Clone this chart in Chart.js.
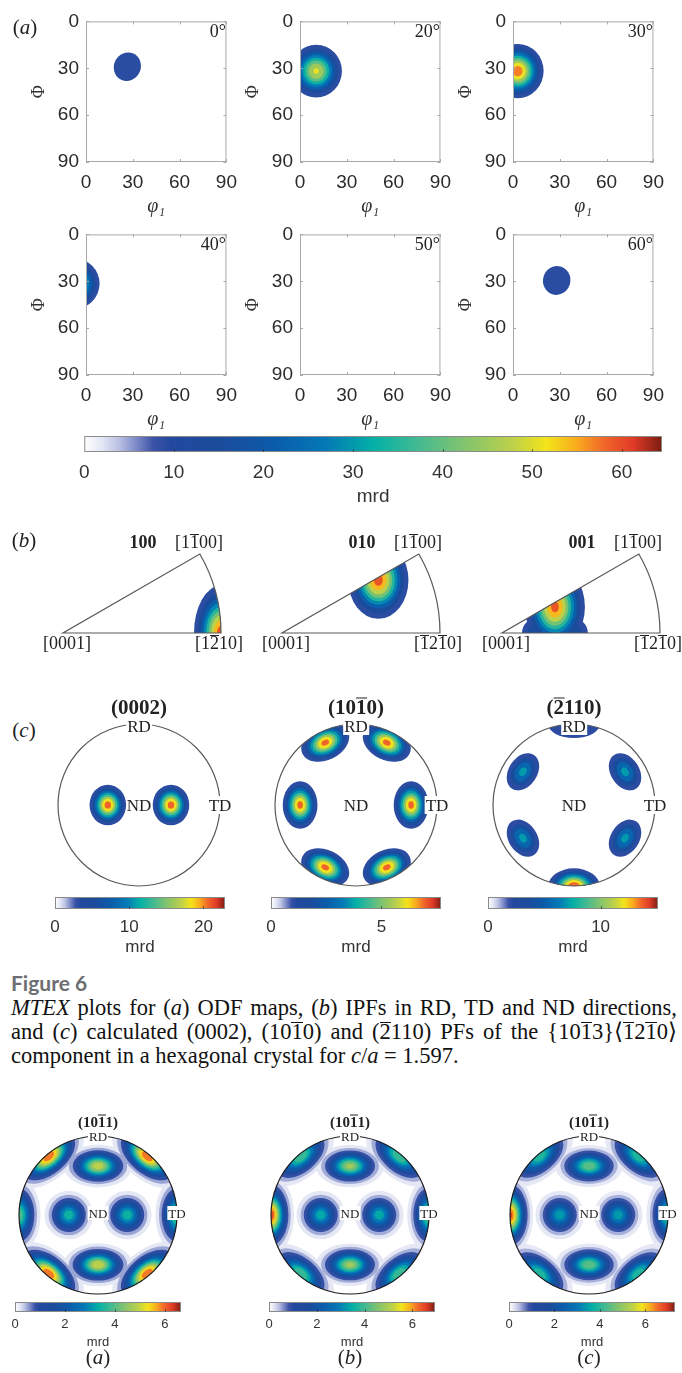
<!DOCTYPE html>
<html>
<head>
<meta charset="utf-8">
<title>MTEX plots</title>
<script src="https://cdn.jsdelivr.net/npm/chart.js@4.4.1/dist/chart.umd.min.js"></script>
<style>
  html, body { margin: 0; padding: 0; background: #fff; }
  #page { position: relative; width: 682px; height: 1373px; overflow: hidden; background: #fff; }
  .box { position: absolute; }
  .box canvas { display: block; }
  .t { position: absolute; white-space: nowrap; transform: translate(-50%, -50%);
       font-family: "Liberation Serif", "DejaVu Serif", serif; color: #222; line-height: 1; z-index: 5; }
  .r { transform: translate(-100%, -50%); }
  .bg { background: #fff; padding: 1px 1px 0; }
  .ol { display: inline-block; border-top: 1px solid currentColor; line-height: 0.7em; padding-top: 1px; }
  .fig { position: absolute; left: 11px; top: 971px; font-family: Lato, "Open Sans", sans-serif;
         font-weight: bold; font-size: 21px; color: #6d6e71; line-height: 1.1; }
  .cap { position: absolute; left: 11px; width: 666px; font-family: "Liberation Serif", serif; font-size: 22.5px;
         color: #111; white-space: nowrap; line-height: 1.1; }
  .just { text-align: justify; text-align-last: justify; word-spacing: -1px; }
</style>
</head>
<body>
<div id="page"></div>
<script>
// ---------- data ----------
// (a) ODF sections, one blob per section (phi1, Phi in degrees)
const odfSections = ['0°', '20°', '30°', '40°', '50°', '60°'];
const odfTicks = [0, 30, 60, 90];
const odfBlobX = [26.5, 10.4, 3, -7.5, null, 28];
const odfBlobY = [29, 31.8, 31.8, 31.5, null, 29.5];
const odfSigmaMajor = [10.8, 8.8, 8.5, 8.75, null, 10.8];
const odfSigmaMinor = [10.0, 9.0, 8.9, 8.75, null, 10.2];
const odfTilt = [65, 0, 0, 0, null, 75];
const odfPeak = [13, 52, 61, 50, null, 13];
const odfLevels = [9, 15, 21, 27, 33, 39, 45, 51, 57, 63];
const odfMax = 64.5;
const odfBarTicks = [0, 10, 20, 30, 40, 50, 60];

// (b) inverse pole figures: [x, y, sigmaMajor, sigmaMinor, tilt, peak]
const ipfTitles = ['100', '010', '001'];
const ipf100Blobs = [[1.0, 0.0, 0.087, 0.153, 0, 9.6]];
const ipf010Blobs = [[0.61, 0.335, 0.097, 0.125, 0, 9.6]];
const ipf001Blobs = [[0.335, 0.165, 0.097, 0.133, 0, 9.5], [0.22, 0.0, 0.07, 0.07, 0, 3.4], [0.45, 0.0, 0.07, 0.07, 0, 3.4]];
const ipfLevels = [1.4, 2.4, 3.4, 4.4, 5.4, 6.4, 7.4, 8.4, 9.2];
const ipfMax = 10;

// (c) pole figures
const pf0002Blobs = [[-0.385, 0, 0.115, 0.128, 0, 22], [0.395, 0, 0.115, 0.128, 0, 22]];
const pf1010Blobs = [[-0.69, 0, 0.11, 0.15, 0, 7.3], [0.68, 0, 0.11, 0.15, 0, 7.3],
  [-0.38, 0.77, 0.16, 0.11, 26, 7.3], [0.38, 0.77, 0.16, 0.11, -26, 7.3],
  [-0.38, -0.77, 0.16, 0.11, -26, 7.3], [0.38, -0.77, 0.16, 0.11, 26, 7.3]];
const pf2110Blobs = [[-0.63, 0.41, 0.155, 0.11, 57, 7.6], [0.63, 0.41, 0.155, 0.11, -57, 7.6],
  [-0.63, -0.41, 0.155, 0.11, -57, 7.6], [0.63, -0.41, 0.155, 0.11, 57, 7.6],
  [0, 1.0, 0.26, 0.14, 0, 4.5], [0, -1.0, 0.16, 0.11, 0, 15]];
const pfMax = [22.9, 7.7, 15.1];
const pfBarTicks = [[0, 10, 20], [0, 5], [0, 10]];
const pfLevels = [[3.2, 5.7, 8.2, 10.7, 13.2, 15.7, 18.2, 20.7],
  [1.08, 1.92, 2.76, 3.6, 4.44, 5.28, 6.12, 6.96],
  [2.1, 3.75, 5.4, 7.05, 8.7, 10.35, 12, 13.65]];

// second figure: (10-11) pole figures a, b, c
const pfA1011 = [[0, 0.62, 0.17, 0.106, 0, 5.3], [0, -0.63, 0.17, 0.106, 0, 5.4],
  [-0.37, 0, 0.127, 0.127, 0, 3.8], [0.37, 0, 0.127, 0.127, 0, 3.8],
  [-1.0, 0, 0.11, 0.19, 0, 4.3], [1.0, 0, 0.11, 0.19, 0, 4.3],
  [-0.623, 0.743, 0.2, 0.11, 40, 6.4], [0.623, 0.743, 0.2, 0.11, -40, 6.4],
  [-0.623, -0.743, 0.2, 0.11, -40, 6.4], [0.623, -0.743, 0.2, 0.11, 40, 6.4]];
const pfB1011 = [[0, 0.62, 0.17, 0.106, 0, 5.1], [0, -0.63, 0.17, 0.106, 0, 5.1],
  [-0.37, 0, 0.127, 0.127, 0, 3.8], [0.37, 0, 0.127, 0.127, 0, 3.8],
  [-1.0, 0, 0.11, 0.19, 0, 6.8], [1.0, 0, 0.11, 0.19, 0, 4.6],
  [-0.623, 0.743, 0.2, 0.11, 40, 4.4], [0.623, 0.743, 0.2, 0.11, -40, 4.4],
  [-0.623, -0.743, 0.2, 0.11, -40, 4.4], [0.623, -0.743, 0.2, 0.11, 40, 4.4]];
const pfC1011 = [[0, 0.62, 0.17, 0.106, 0, 4.9], [0, -0.63, 0.17, 0.106, 0, 4.9],
  [-0.37, 0, 0.127, 0.127, 0, 3.8], [0.37, 0, 0.127, 0.127, 0, 3.8],
  [-1.0, 0, 0.11, 0.19, 0, 7.1], [1.0, 0, 0.11, 0.19, 0, 4.4],
  [-0.623, 0.743, 0.2, 0.11, 40, 4.3], [0.623, 0.743, 0.2, 0.11, -40, 4.3],
  [-0.623, -0.743, 0.2, 0.11, -40, 4.3], [0.623, -0.743, 0.2, 0.11, 40, 4.3]];
const pf1011Max = [6.65, 6.95, 7.3];
const pf1011BarTicks = [0, 2, 4, 6];
const pf1011Levels = [0.2, 0.5, 0.9, 1.4, 1.9, 2.4, 2.9, 3.4, 3.9, 4.4, 4.9, 5.4, 5.9, 6.4, 6.9];

// ---------- colour map (MTEX style) ----------
const cmapStops = [
  [0.00, '#ffffff'], [0.03, '#e4e7f4'], [0.06, '#b9c0e3'], [0.09, '#7d8ac8'],
  [0.12, '#3a52a6'], [0.15, '#22499e'], [0.24, '#1b4c9c'], [0.33, '#0a5cab'],
  [0.42, '#047ab6'], [0.50, '#03b0a6'], [0.58, '#45ba91'], [0.66, '#84c46d'],
  [0.74, '#bcd04a'], [0.80, '#f3e41b'], [0.85, '#f9ae1d'], [0.90, '#f1662a'],
  [0.95, '#e03b26'], [1.00, '#7a1c12']
];
function hex(c) { return [1, 3, 5].map(i => parseInt(c.substr(i, 2), 16)); }
function cmap(t) {
  t = Math.max(0, Math.min(1, t));
  for (let i = 1; i < cmapStops.length; i++) {
    if (t <= cmapStops[i][0]) {
      const [t0, c0] = cmapStops[i - 1], [t1, c1] = cmapStops[i];
      const f = (t - t0) / (t1 - t0), a = hex(c0), b = hex(c1);
      return 'rgb(' + a.map((v, k) => Math.round(v + (b[k] - v) * f)).join(',') + ')';
    }
  }
  return cmapStops[cmapStops.length - 1][1];
}

// ---------- plugins ----------
// filled contours of each blob, drawn level by level so neighbouring blobs merge
const contourPlugin = {
  id: 'contour',
  afterDatasetsDraw(chart, args, opts) {
    const {ctx, chartArea: a} = chart;
    const xs = chart.scales.x, ys = chart.scales.y;
    const ux = Math.abs(xs.getPixelForValue(1) - xs.getPixelForValue(0));
    const uy = Math.abs(ys.getPixelForValue(1) - ys.getPixelForValue(0));
    const ox = xs.getPixelForValue(0), oy = ys.getPixelForValue(0);
    const region = () => {
      ctx.beginPath();
      if (opts.shape === 'circle') {
        ctx.ellipse(ox, oy, ux, uy, 0, 0, 2 * Math.PI);
      } else if (opts.shape === 'sector') {
        ctx.moveTo(ox, oy);
        ctx.lineTo(ox + ux, oy);
        ctx.arc(ox, oy, ux, 0, -Math.PI / 6, true);
        ctx.closePath();
      } else {
        ctx.rect(a.left, a.top, a.width, a.height);
      }
    };
    ctx.save();
    region();
    ctx.clip();
    opts.levels.forEach(lv => {
      ctx.beginPath();
      let any = false;
      chart.data.datasets.forEach((ds, i) => {
        if (!(ds.peak > lv)) return;
        const el = chart.getDatasetMeta(i).data[0];
        if (!el) return;
        const f = Math.sqrt(2 * Math.log(ds.peak / lv));
        const rx = ds.sa * ux * f, ry = ds.sb * uy * f;
        const rot = -ds.rot * Math.PI / 180;
        ctx.moveTo(el.x + rx * Math.cos(rot), el.y + rx * Math.sin(rot));
        ctx.ellipse(el.x, el.y, rx, ry, rot, 0, 2 * Math.PI);
        any = true;
      });
      if (any) {
        ctx.fillStyle = cmap(lv / opts.vmax);
        ctx.fill();
      }
    });
    ctx.restore();
    if (opts.shape !== 'rect') {
      ctx.save();
      region();
      ctx.strokeStyle = opts.edge || '#5a5a5a';
      ctx.lineWidth = 1.2;
      ctx.stroke();
      ctx.restore();
    }
  }
};

// MATLAB-like box with inward ticks
const framePlugin = {
  id: 'frame',
  afterDraw(chart, args, opts) {
    const {ctx, chartArea: a} = chart;
    const xs = chart.scales.x, ys = chart.scales.y;
    ctx.save();
    ctx.strokeStyle = opts.color;
    ctx.lineWidth = 1;
    ctx.strokeRect(a.left + 0.5, a.top + 0.5, a.width - 1, a.height - 1);
    ctx.beginPath();
    xs.ticks.forEach(t => {
      const p = Math.round(xs.getPixelForValue(t.value)) + 0.5;
      ctx.moveTo(p, a.bottom); ctx.lineTo(p, a.bottom - 3);
      ctx.moveTo(p, a.top); ctx.lineTo(p, a.top + 3);
    });
    ys.ticks.forEach(t => {
      const p = Math.round(ys.getPixelForValue(t.value)) + 0.5;
      ctx.moveTo(a.left, p); ctx.lineTo(a.left + 3, p);
      ctx.moveTo(a.right, p); ctx.lineTo(a.right - 3, p);
    });
    ctx.stroke();
    ctx.restore();
  }
};

// colour bar filled with the colour map
const barPlugin = {
  id: 'bar',
  afterDraw(chart) {
    const {ctx, chartArea: a} = chart;
    const xs = chart.scales.x;
    const g = ctx.createLinearGradient(a.left, 0, a.right, 0);
    cmapStops.forEach(([t, c]) => g.addColorStop(t, c));
    ctx.save();
    ctx.fillStyle = g;
    ctx.fillRect(a.left, a.top, a.width, a.height);
    ctx.strokeStyle = '#8a8a8a';
    ctx.lineWidth = 1;
    ctx.strokeRect(a.left + 0.5, a.top + 0.5, a.width - 1, a.height - 1);
    ctx.strokeStyle = 'rgba(40,40,40,0.6)';
    ctx.beginPath();
    xs.ticks.forEach(t => {
      if (t.value === 0) return;
      const p = Math.round(xs.getPixelForValue(t.value)) + 0.5;
      ctx.moveTo(p, a.bottom); ctx.lineTo(p, a.bottom - 3);
    });
    ctx.stroke();
    ctx.restore();
  }
};

// ---------- helpers ----------
const page = document.getElementById('page');
const SERIF = '"Liberation Serif", "DejaVu Serif", serif';
Chart.defaults.font.family = '"Liberation Sans", Arial, sans-serif';
Chart.defaults.color = '#333';
Chart.defaults.animation = false;
Chart.defaults.responsive = false;
Chart.defaults.events = [];
Chart.defaults.plugins.legend.display = false;
Chart.defaults.plugins.tooltip.enabled = false;

function makeCanvas(left, top, w, h) {
  const box = document.createElement('div');
  box.className = 'box';
  box.style.left = left + 'px';
  box.style.top = top + 'px';
  const c = document.createElement('canvas');
  c.width = w; c.height = h;
  c.style.width = w + 'px'; c.style.height = h + 'px';
  box.appendChild(c);
  page.appendChild(box);
  return c.getContext('2d');
}

function label(html, x, y, size, extra, cls) {
  const d = document.createElement('div');
  d.className = 't ' + (cls || '');
  d.innerHTML = html;
  d.style.left = x + 'px';
  d.style.top = y + 'px';
  d.style.fontSize = size + 'px';
  if (extra) Object.assign(d.style, extra);
  page.appendChild(d);
}

const blobSets = rows => rows.map(([x, y, sa, sb, rot, peak]) => ({
  data: [{x, y}], pointRadius: 0, sa, sb, rot, peak
}));

const hidden = (min, max) => ({type: 'linear', display: false, min, max});

function colourBar(left, top, w, h, vmax, ticks, size, tickPad, axisH) {
  const padX = 14, padT = 4;
  const ctx = makeCanvas(left - padX, top - padT, w + 2 * padX, padT + h + axisH + 2);
  new Chart(ctx, {
    type: 'scatter',
    data: {datasets: []},
    options: {
      layout: {padding: {left: padX, right: padX, top: padT, bottom: 2}},
      scales: {
        x: {
          type: 'linear', min: 0, max: vmax,
          grid: {display: false, drawTicks: false}, border: {display: false},
          afterBuildTicks: s => { s.ticks = ticks.map(v => ({value: v})); },
          afterFit: s => { s.height = axisH; },
          ticks: {padding: tickPad, font: {size}, color: '#333', maxRotation: 0, autoSkip: false},
          title: {display: true, text: 'mrd', font: {size}, color: '#333', padding: 0}
        },
        y: hidden(0, 1)
      }
    },
    plugins: [barPlugin]
  });
}

function poleFigure(cx, cy, r, rows, vmax, levels, edge) {
  const pad = 10;
  const ctx = makeCanvas(cx - r - pad, cy - r - pad, 2 * r + 2 * pad, 2 * r + 2 * pad);
  new Chart(ctx, {
    type: 'scatter',
    data: {datasets: blobSets(rows)},
    options: {
      layout: {padding: pad},
      scales: {x: hidden(-1, 1), y: hidden(-1, 1)},
      plugins: {contour: {vmax, levels, shape: 'circle', edge}}
    },
    plugins: [contourPlugin]
  });
}

// ---------- (a) ODF sections ----------
const odfCols = [86, 300, 513], odfRows = [15, 228], odfW = 146, odfH = 147;
odfSections.forEach((name, i) => {
  const left = odfCols[i % 3], top = odfRows[Math.floor(i / 3)];
  const rows = odfPeak[i] ? [[odfBlobX[i], odfBlobY[i], odfSigmaMajor[i], odfSigmaMinor[i], odfTilt[i], odfPeak[i]]] : [];
  const ctx = makeCanvas(left - 60, top - 12, 60 + odfW + 14, 12 + odfH + 57 + 2);
  new Chart(ctx, {
    type: 'scatter',
    data: {datasets: blobSets(rows)},
    options: {
      layout: {padding: {left: 0, right: 14, top: 12, bottom: 2}},
      scales: {
        x: {
          type: 'linear', min: 0, max: 90,
          grid: {display: false, drawTicks: false}, border: {display: false},
          afterBuildTicks: s => { s.ticks = odfTicks.map(v => ({value: v})); },
          afterFit: s => { s.height = 57; },
          ticks: {padding: 9, font: {size: 19}, color: '#2a2a2a', maxRotation: 0, autoSkip: false},
          title: {display: true, text: 'φ₁', font: {family: SERIF, size: 20, style: 'italic'}, color: '#333', padding: 0}
        },
        y: {
          type: 'linear', min: 0, max: 90, reverse: true,
          grid: {display: false, drawTicks: false}, border: {display: false},
          afterBuildTicks: s => { s.ticks = odfTicks.map(v => ({value: v})); },
          afterFit: s => { s.width = 60; },
          ticks: {padding: 7, font: {size: 19}, color: '#2a2a2a', autoSkip: false},
          title: {display: true, text: 'Φ', font: {family: SERIF, size: 18}, color: '#333', padding: {top: 2, bottom: 0}}
        }
      },
      plugins: {contour: {vmax: odfMax, levels: odfLevels, shape: 'rect'}, frame: {color: '#a9a9a9'}}
    },
    plugins: [contourPlugin, framePlugin]
  });
  label(name, left + odfW - 6, top + 16, 18, null, 'r');
});
colourBar(84, 436, 578, 16, odfMax, odfBarTicks, 19, 9, 56);

// ---------- (b) inverse pole figures ----------
const ipfApex = [63, 282, 502], ipfBase = 633, ipfR = 158;
[ipf100Blobs, ipf010Blobs, ipf001Blobs].forEach((rows, i) => {
  const pad = 12, ax = ipfApex[i];
  const ctx = makeCanvas(ax - pad, ipfBase - ipfR / 2 - pad, ipfR + 2 * pad, ipfR / 2 + 2 * pad);
  new Chart(ctx, {
    type: 'scatter',
    data: {datasets: blobSets(rows)},
    options: {
      layout: {padding: pad},
      scales: {x: hidden(0, 1), y: hidden(0, 0.5)},
      plugins: {contour: {vmax: ipfMax, levels: ipfLevels, shape: 'sector'}}
    },
    plugins: [contourPlugin]
  });
  label(ipfTitles[i], ax + 80, 542, 18, {fontWeight: 'bold'});
  label('[1<span class="ol">1</span>00]', ax + 136, 542, 18);
  label('[0001]', ax + 4, 643, 18);
  label(i === 0 ? '[1<span class="ol">2</span>10]' : '[<span class="ol">1</span>2<span class="ol">1</span>0]', ax + 156, 643, 18);
});

// ---------- (c) pole figures ----------
const pfCx = [139, 356, 574], pfCy = 805, pfR = 81;
const pfTitles = ['(0002)', '(10<span class="ol">1</span>0)', '(<span class="ol">2</span>110)'];
[pf0002Blobs, pf1010Blobs, pf2110Blobs].forEach((rows, i) => {
  poleFigure(pfCx[i], pfCy, pfR, rows, pfMax[i], pfLevels[i], '#5a5a5a');
  label(pfTitles[i], pfCx[i], 707, 21, {fontWeight: 'bold'});
  label('RD', pfCx[i], 726, 17, null, 'bg');
  label('ND', pfCx[i], pfCy, 17);
  label('TD', pfCx[i] + pfR, pfCy, 17, null, 'bg');
});
const pfBarLeft = [55, 271, 488];
pfBarLeft.forEach((x, i) => colourBar(x, 897, 170, 12, pfMax[i], pfBarTicks[i], 17, 8, 49));

// ---------- second figure: (10-11) pole figures ----------
const p2Cx = [98, 350, 589], p2Cy = 1215, p2R = 79;
const p2Tags = ['(<i>a</i>)', '(<i>b</i>)', '(<i>c</i>)'];
[pfA1011, pfB1011, pfC1011].forEach((rows, i) => {
  poleFigure(p2Cx[i], p2Cy, p2R, rows, pf1011Max[i], pf1011Levels, '#1e1e1e');
  label('(10<span class="ol">1</span>1)', p2Cx[i], 1122, 15, {fontWeight: 'bold'});
  label('RD', p2Cx[i], 1136, 13, null, 'bg');
  label('ND', p2Cx[i], p2Cy - 2, 13, null, 'bg');
  label('TD', p2Cx[i] + p2R, p2Cy - 2, 13, null, 'bg');
  label(p2Tags[i], p2Cx[i], 1357, 21);
});
const p2BarLeft = [15, 269, 509];
p2BarLeft.forEach((x, i) => colourBar(x, 1302, 166, 10, pf1011Max[i], pf1011BarTicks, 13, 5, 38));

// ---------- panel letters and caption ----------
label('(<i>a</i>)', 25, 27, 21);
label('(<i>b</i>)', 24, 540, 21);
label('(<i>c</i>)', 24, 730, 21);

const fig = document.createElement('div');
fig.className = 'fig';
fig.textContent = 'Figure 6';
page.appendChild(fig);
const capLines = [
  ['<i>MTEX</i> plots for (<i>a</i>) ODF maps, (<i>b</i>) IPFs in RD, TD and ND directions,', true],
  ['and (<i>c</i>) calculated (0002), (10<span class="ol">1</span>0) and (<span class="ol">2</span>110) PFs of the {10<span class="ol">1</span>3}⟨<span class="ol">1</span>2<span class="ol">1</span>0⟩', true],
  ['component in a hexagonal crystal for <i>c</i>/<i>a</i> = 1.597.', false]
];
capLines.forEach(([html, just], k) => {
  const d = document.createElement('div');
  d.className = 'cap' + (just ? ' just' : '');
  d.style.top = (996 + k * 24) + 'px';
  d.innerHTML = html;
  page.appendChild(d);
});
</script>
</body>
</html>
